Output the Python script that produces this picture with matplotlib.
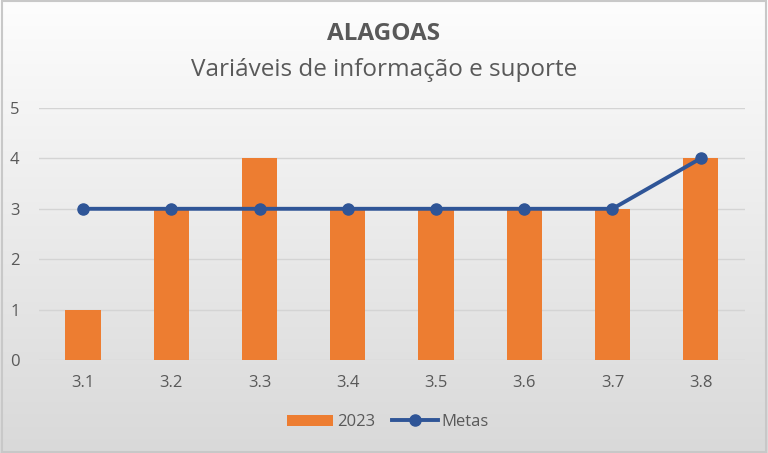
import numpy as np
import matplotlib.pyplot as plt
from matplotlib.patches import Rectangle
from matplotlib.colors import LinearSegmentedColormap

# data
categorias = ["3.1", "3.2", "3.3", "3.4", "3.5", "3.6", "3.7", "3.8"]
valores_2023 = [1, 3, 4, 3, 3, 3, 3, 4]
metas = [3, 3, 3, 3, 3, 3, 3, 4]

plt.rcParams['font.family'] = ['Open Sans', 'DejaVu Sans']
cinza = "#595959"

fig = plt.figure(figsize=(7.68, 4.53), dpi=100)

# gradient background (white at top, light gray at bottom)
bg = fig.add_axes([0, 0, 1, 1], zorder=-2)
grad = np.linspace(0, 1, 256).reshape(-1, 1)
bg.imshow(grad, aspect="auto", cmap=LinearSegmentedColormap.from_list("g", ["#fdfdfd", "#d9d9d9"]),
          extent=[0, 1, 0, 1], origin="upper")
bg.axis("off")
fig.patches.append(Rectangle((0.002, 0.003), 0.996, 0.994, transform=fig.transFigure,
                             fill=False, edgecolor="#c8c8c8", linewidth=1.5))

ax = fig.add_axes([0.0508, 0.2053, 0.919, 0.5563])
ax.set_facecolor("none")
x = np.arange(len(categorias))
barras = ax.bar(x, valores_2023, width=0.4, color="#ed7d31", label="2023", zorder=2)
linha, = ax.plot(x, metas, color="#2f5597", linewidth=2.8, marker="o", markersize=8,
                 label="Metas", zorder=3)

ax.set_xlim(-0.5, len(categorias) - 0.5)
ax.set_ylim(0, 5)
ax.set_yticks(range(0, 6))
ax.set_xticks(x)
ax.set_xticklabels(categorias)
ax.grid(axis="y", color="#d4d4d4", linewidth=1, zorder=0)
for s in ax.spines.values():
    s.set_visible(False)
ax.tick_params(axis="both", length=0, colors=cinza, labelsize=12)
ax.tick_params(axis="x", pad=11)
ax.tick_params(axis="y", pad=14)

fig.text(0.5, 0.925, "ALAGOAS", ha="center", va="center", fontsize=17.5,
         fontweight="bold", color=cinza)
fig.text(0.5, 0.845, "Variáveis de informação e suporte", ha="center", va="center",
         fontsize=17.5, color=cinza)

fig.legend([barras, linha], ["2023", "Metas"], loc="center", bbox_to_anchor=(0.505, 0.068),
           ncol=2, frameon=False, fontsize=12, labelcolor=cinza, handlelength=2.8,
           columnspacing=1.0, handletextpad=0.2)

fig.savefig("out.png", dpi=100)
